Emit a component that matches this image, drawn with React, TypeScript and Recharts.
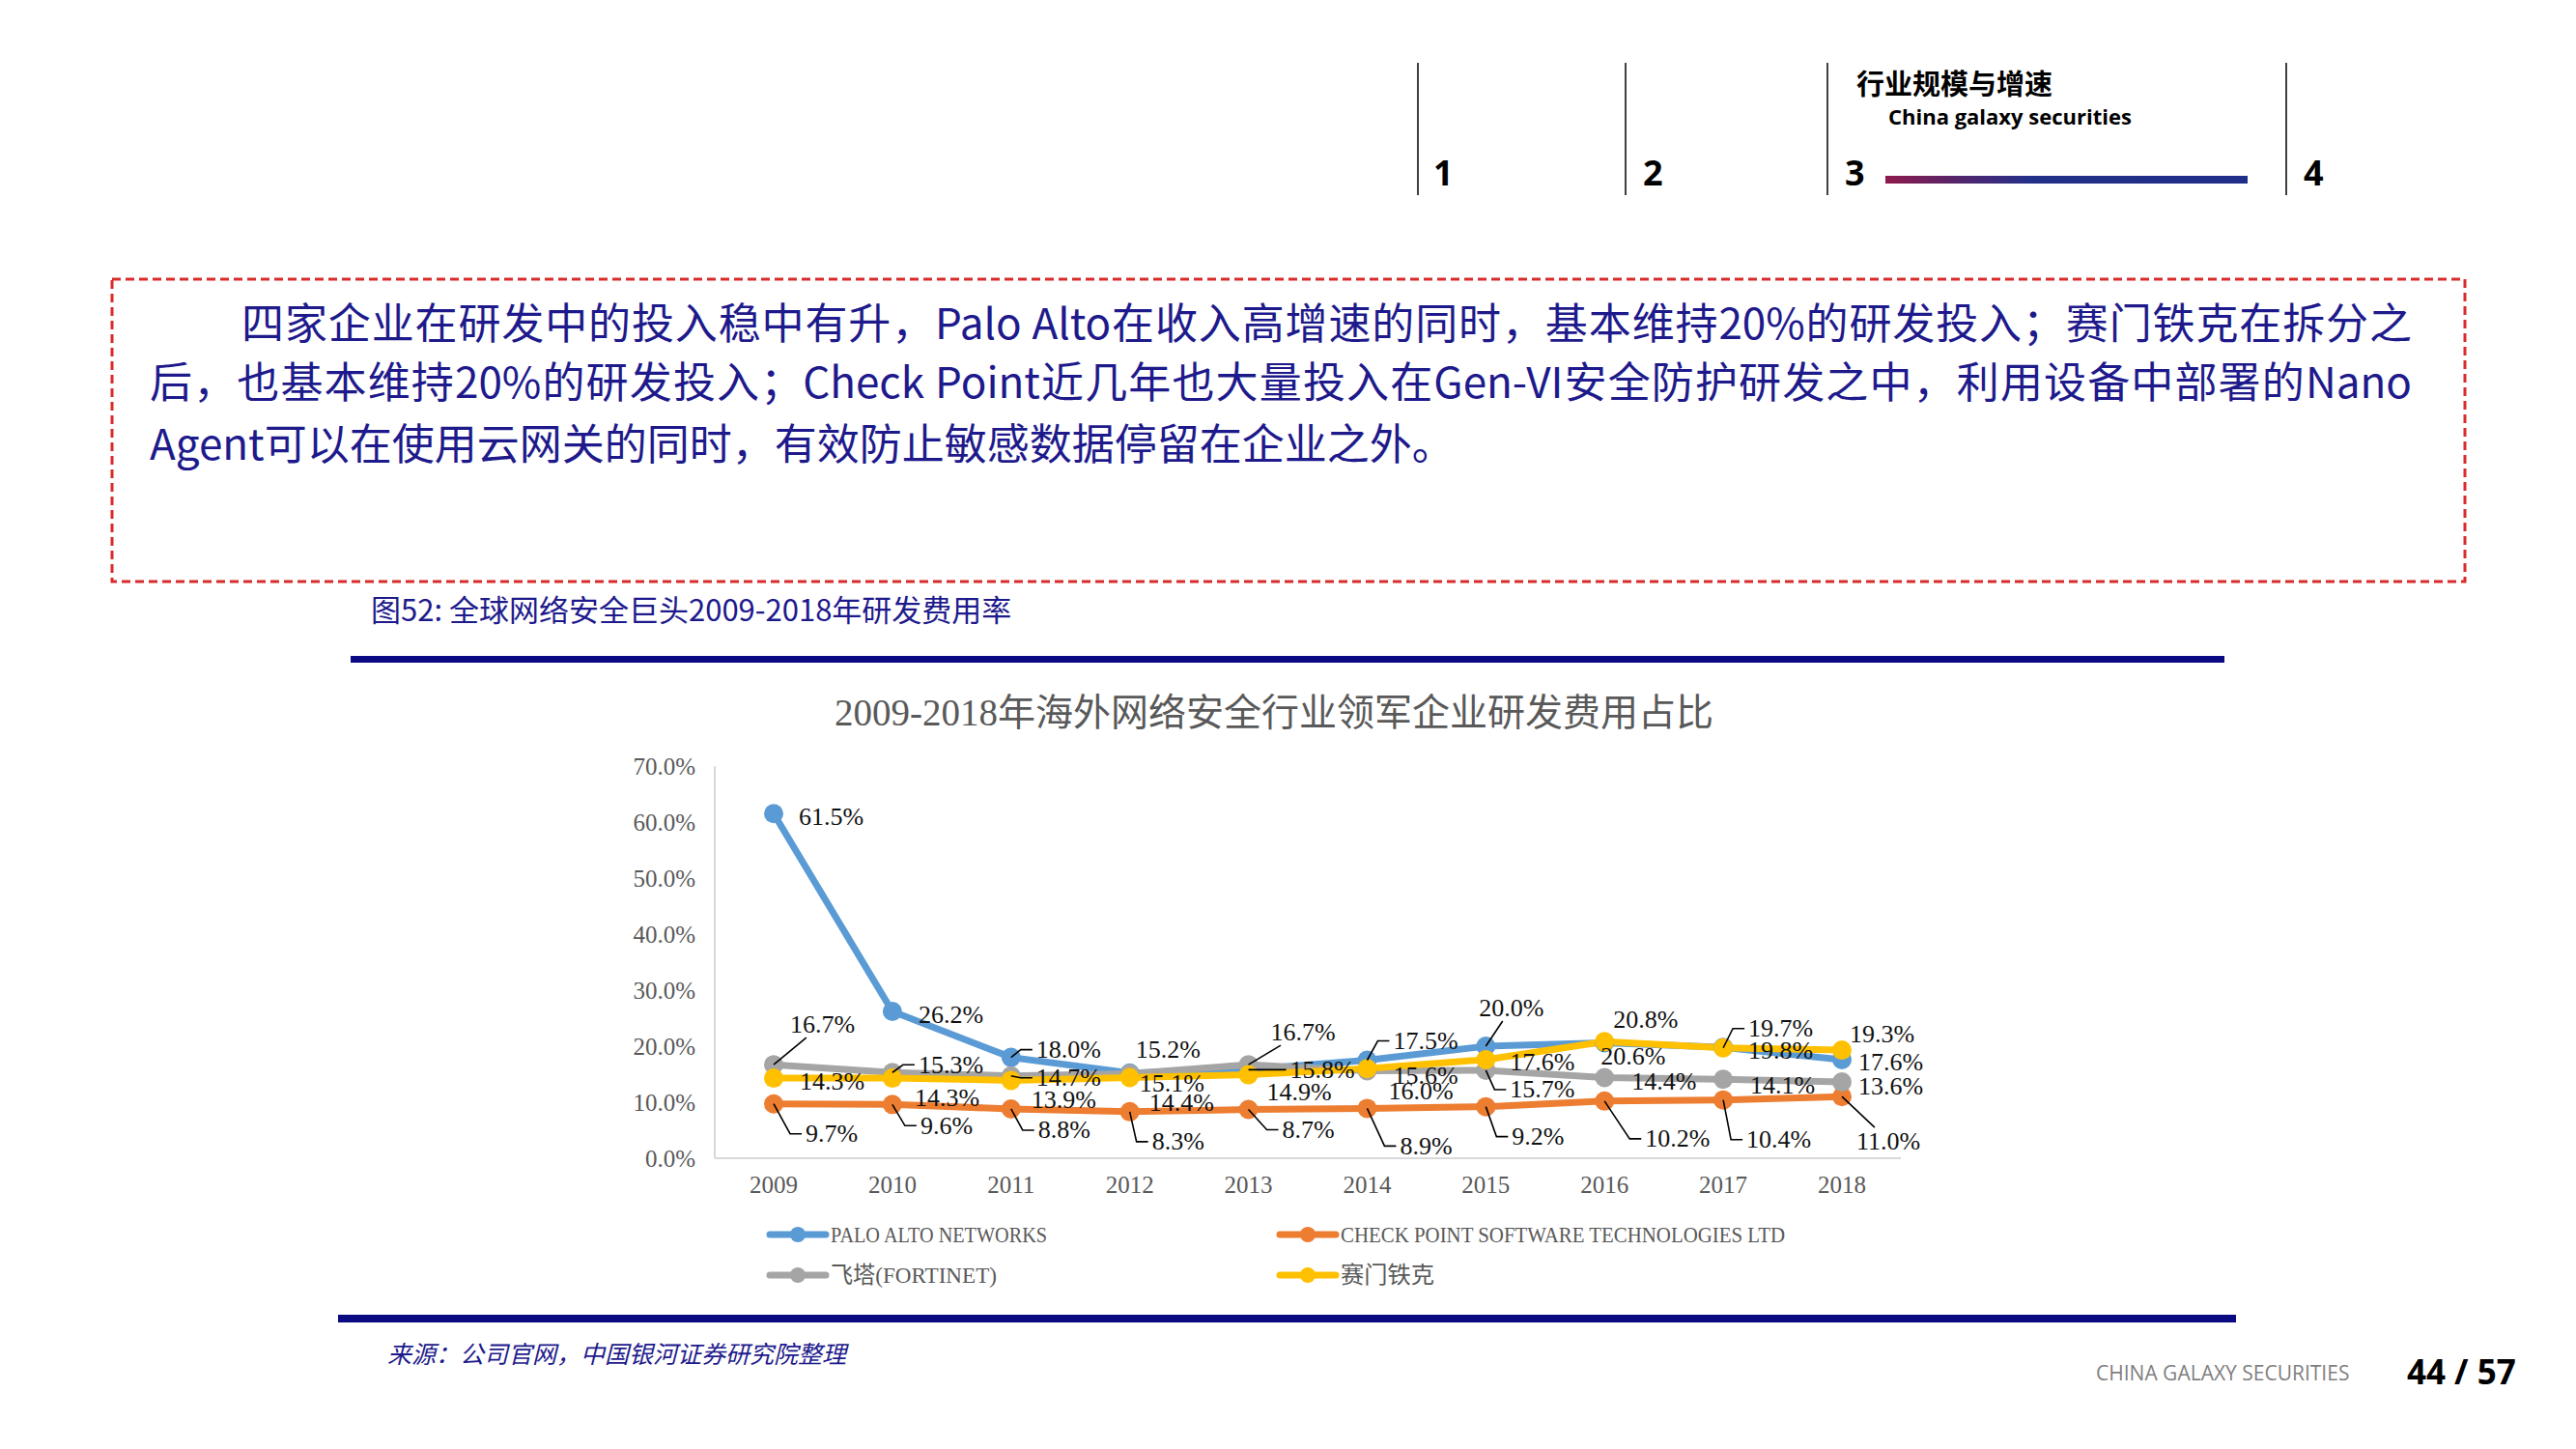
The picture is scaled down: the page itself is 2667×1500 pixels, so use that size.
import { LineChart, Line, XAxis, YAxis, LabelList } from 'recharts';

const years = ['2009', '2010', '2011', '2012', '2013', '2014', '2015', '2016', '2017', '2018'];
const paloAlto = [61.5, 26.2, 18.0, 15.2, 15.8, 17.5, 20.0, 20.6, 19.8, 17.6];
const checkPoint = [9.7, 9.6, 8.8, 8.3, 8.7, 8.9, 9.2, 10.2, 10.4, 11.0];
const fortinet = [16.7, 15.3, 14.7, 15.1, 16.7, 15.6, 15.7, 14.4, 14.1, 13.6];
const symantec = [14.3, 14.3, 13.9, 14.4, 14.9, 16.0, 17.6, 20.8, 19.7, 19.3];
const seriesNames = ['PALO ALTO NETWORKS', 'CHECK POINT SOFTWARE TECHNOLOGIES LTD', '飞塔(FORTINET)', '赛门铁克'];
const yTicks = [0, 10, 20, 30, 40, 50, 60, 70];

const keys = ['palo', 'check', 'forti', 'syma'];
const colors = ['#5B9BD5', '#ED7D31', '#A5A5A5', '#FFC000'];

const data = years.map((year, i) => ({
  year,
  palo: paloAlto[i],
  check: checkPoint[i],
  forti: fortinet[i],
  syma: symantec[i],
}));

// label placement (dx, dy from the point) and leader kind: 0 none, 1 elbow, 2 straight
const labelOffsets = [
  [[26, 3], [27, 3], [26, -8], [6, -24], [43, 0], [27, -20], [-7, -40], [-4, 14], [26, 3], [17, 3]],
  [[33, 31], [29, 22], [28, 22], [23, 31], [35, 21], [34, 39], [27, 31], [42, 39], [24, 41], [15, 46]],
  [[17, -42], [27, -8], [26, 2], [10, 10], [23, -34], [27, 5], [25, 20], [28, 4], [28, 6], [17, 4]],
  [[27, 3], [23, 20], [21, 20], [20, 26], [19, 18], [22, 23], [25, 3], [9, -23], [26, -20], [8, -17]],
];
const leaderKinds = [
  [0, 0, 1, 0, 1, 1, 2, 0, 0, 0],
  [1, 1, 1, 1, 1, 1, 1, 1, 1, 2],
  [2, 1, 1, 0, 2, 0, 1, 0, 0, 0],
  [0, 0, 0, 0, 0, 0, 0, 0, 1, 0],
];

const serif = "'Liberation Serif', 'Noto Sans CJK SC', serif";
const navy = '#1E1A8C';

function makeLabel(s: number) {
  return (props: any) => {
    const x = props.x ?? props.viewBox?.x;
    const y = props.y ?? props.viewBox?.y;
    const index = props.index;
    if (x == null || y == null || index == null) return null;
    const [dx, dy] = labelOffsets[s][index];
    const tx = x + dx;
    const ty = y + dy;
    const text = Number(props.value).toFixed(1) + '%';
    const w = text.length * 13.5;
    const kind = leaderKinds[s][index];
    let leader = null;
    if (kind === 1) {
      leader = (
        <polyline
          points={`${x},${y} ${tx - 16},${ty} ${tx - 4},${ty}`}
          fill="none"
          stroke="#000"
          strokeWidth={1.6}
        />
      );
    } else if (kind === 2) {
      const cx = tx + w / 2;
      const cy = ty;
      const dirx = cx - x;
      const diry = cy - y;
      let t = 0;
      if (dirx !== 0) {
        const a = (tx - 4 - x) / dirx;
        const b = (tx + w + 4 - x) / dirx;
        t = Math.max(t, Math.min(a, b));
      }
      if (diry !== 0) {
        const a = (ty - 14 - y) / diry;
        const b = (ty + 14 - y) / diry;
        t = Math.max(t, Math.min(a, b));
      }
      leader = <line x1={x} y1={y} x2={x + dirx * t} y2={y + diry * t} stroke="#000" strokeWidth={1.6} />;
    }
    return (
      <g>
        {leader}
        <text x={tx} y={ty} dominantBaseline="central" fontSize={26} fontFamily={serif} fill="#111">
          {text}
        </text>
      </g>
    );
  };
}

function Legend() {
  return (
    <svg width={1200} height={100} style={{ position: 'absolute', left: 780, top: 1250 }}>
      {seriesNames.map((name, i) => {
        const col = i % 2;
        const row = Math.floor(i / 2);
        const x0 = col === 0 ? 17 : 545;
        const y0 = row === 0 ? 28 : 70;
        const lens = [224, 460, 172, 97];
        return (
          <g key={name}>
            <line x1={x0} y1={y0} x2={x0 + 58} y2={y0} stroke={colors[i]} strokeWidth={7} strokeLinecap="round" />
            <circle cx={x0 + 29} cy={y0} r={8} fill={colors[i]} />
            <text
              x={x0 + 63}
              y={y0}
              dominantBaseline="central"
              fontSize={24}
              fontFamily={serif}
              fill="#595959"
              textLength={lens[i]}
              lengthAdjust="spacingAndGlyphs"
            >
              {name}
            </text>
          </g>
        );
      })}
    </svg>
  );
}

function RdChart() {
  return (
    <div style={{ position: 'absolute', left: 600, top: 700 }}>
      <LineChart width={1450} height={539} data={data} margin={{ top: 93, right: 82, bottom: 0, left: 0 }}>
        <XAxis
          dataKey="year"
          padding={{ left: 61, right: 61 }}
          axisLine={{ stroke: '#D9D9D9', strokeWidth: 2 }}
          tickLine={false}
          tickMargin={12}
          height={40}
          tick={{ fill: '#595959', fontSize: 25, fontFamily: serif }}
        />
        <YAxis
          domain={[0, 70]}
          ticks={yTicks}
          width={140}
          axisLine={{ stroke: '#D9D9D9', strokeWidth: 2 }}
          tickLine={false}
          tickMargin={14}
          tickFormatter={(v: number) => v.toFixed(1) + '%'}
          tick={{ fill: '#595959', fontSize: 25, fontFamily: serif }}
        />
        {keys.map((k, i) => (
          <Line
            key={k}
            type="linear"
            dataKey={k}
            stroke={colors[i]}
            strokeWidth={7}
            dot={{ r: 10, fill: colors[i], stroke: 'none' }}
            activeDot={false}
            isAnimationActive={false}
          />
        ))}
        {keys.map((k, i) => (
          <Line
            key={k + '-labels'}
            type="linear"
            dataKey={k}
            stroke="none"
            dot={false}
            activeDot={false}
            legendType="none"
            isAnimationActive={false}
          >
            <LabelList dataKey={k} content={makeLabel(i)} />
          </Line>
        ))}
      </LineChart>
    </div>
  );
}

const bodyLines = [
  '四家企业在研发中的投入稳中有升，Palo Alto在收入高增速的同时，基本维持20%的研发投入；赛门铁克在拆分之',
  '后，也基本维持20%的研发投入；Check Point近几年也大量投入在Gen-VI安全防护研发之中，利用设备中部署的Nano',
  'Agent可以在使用云网关的同时，有效防止敏感数据停留在企业之外。',
];

export default function App() {
  const abs = { position: 'absolute' as const, whiteSpace: 'nowrap' as const };
  return (
    <div
      style={{
        position: 'fixed',
        left: 0,
        top: 0,
        width: 2667,
        height: 1500,
        background: '#fff',
        overflow: 'hidden',
        fontFamily: "'Noto Sans CJK SC', sans-serif",
      }}
    >
      {/* header nav */}
      {[1468, 1683, 1892, 2367].map((x) => (
        <div key={x} style={{ ...abs, left: x - 1, top: 65, width: 2, height: 137, background: '#404040' }} />
      ))}
      {[['1', 1484], ['2', 1701], ['3', 1910], ['4', 2385]].map(([t, x]) => (
        <div
          key={t}
          style={{ ...abs, left: x as number, top: 161, fontSize: 36, lineHeight: '36px', fontWeight: 700, fontFamily: "'Open Sans', sans-serif", color: '#000' }}
        >
          {t}
        </div>
      ))}
      <div style={{ ...abs, left: 1922, top: 71, fontSize: 29, lineHeight: '29px', fontWeight: 700, color: '#000' }}>
        行业规模与增速
      </div>
      <div style={{ ...abs, left: 1955, top: 109, fontSize: 22, lineHeight: '22px', fontWeight: 700, fontFamily: "'Open Sans', sans-serif", color: '#000' }}>
        China galaxy securities
      </div>
      <div
        style={{
          ...abs,
          left: 1952,
          top: 182,
          width: 375,
          height: 8,
          background: 'linear-gradient(90deg, #8E1A4C 0%, #5A2468 18%, #23308A 40%, #1F2E88 100%)',
        }}
      />

      {/* red dashed text box */}
      <svg width={2667} height={700} style={{ position: 'absolute', left: 0, top: 0 }}>
        <rect x={116} y={289} width={2436} height={313} fill="none" stroke="#D92B2B" strokeWidth={3} strokeDasharray="9 5" />
      </svg>
      {bodyLines.map((t, i) => (
        <div
          key={i}
          style={{
            ...abs,
            left: i === 0 ? 250 : 155,
            top: [310, 371, 435][i],
            width: i === 0 ? 2247 : 2342,
            fontSize: 44,
            lineHeight: '44px',
            color: navy,
            textAlign: 'justify',
            textAlignLast: i < 2 ? 'justify' : 'left',
          }}
        >
          {t}
        </div>
      ))}

      {/* figure caption */}
      <div style={{ ...abs, left: 384, top: 614, fontSize: 31, lineHeight: '31px', color: navy }}>
        图52: 全球网络安全巨头2009-2018年研发费用率
      </div>
      <div style={{ ...abs, left: 363, top: 679, width: 1940, height: 7, background: '#0A0A82' }} />

      {/* chart title */}
      <div
        style={{
          ...abs,
          left: 1319,
          top: 718,
          transform: 'translateX(-50%)',
          fontSize: 39,
          lineHeight: '39px',
          letterSpacing: 0,
          color: '#595959',
          fontFamily: serif,
        }}
      >
        2009-2018年海外网络安全行业领军企业研发费用占比
      </div>

      <RdChart />
      <Legend />

      <div style={{ ...abs, left: 350, top: 1361, width: 1965, height: 8, background: '#0A0A82' }} />
      <div style={{ ...abs, left: 401, top: 1388, fontSize: 25, lineHeight: '25px', fontStyle: 'italic', color: navy }}>
        来源：公司官网，中国银河证券研究院整理
      </div>

      <div style={{ ...abs, left: 2170, top: 1411, fontSize: 21, lineHeight: '21px', color: '#7F7F7F', fontFamily: "'Open Sans', sans-serif" }}>
        CHINA GALAXY SECURITIES
      </div>
      <div style={{ ...abs, left: 2492, top: 1402, fontSize: 35, lineHeight: '35px', fontWeight: 700, color: '#000', fontFamily: "'Open Sans', sans-serif" }}>
        44 / 57
      </div>
    </div>
  );
}
